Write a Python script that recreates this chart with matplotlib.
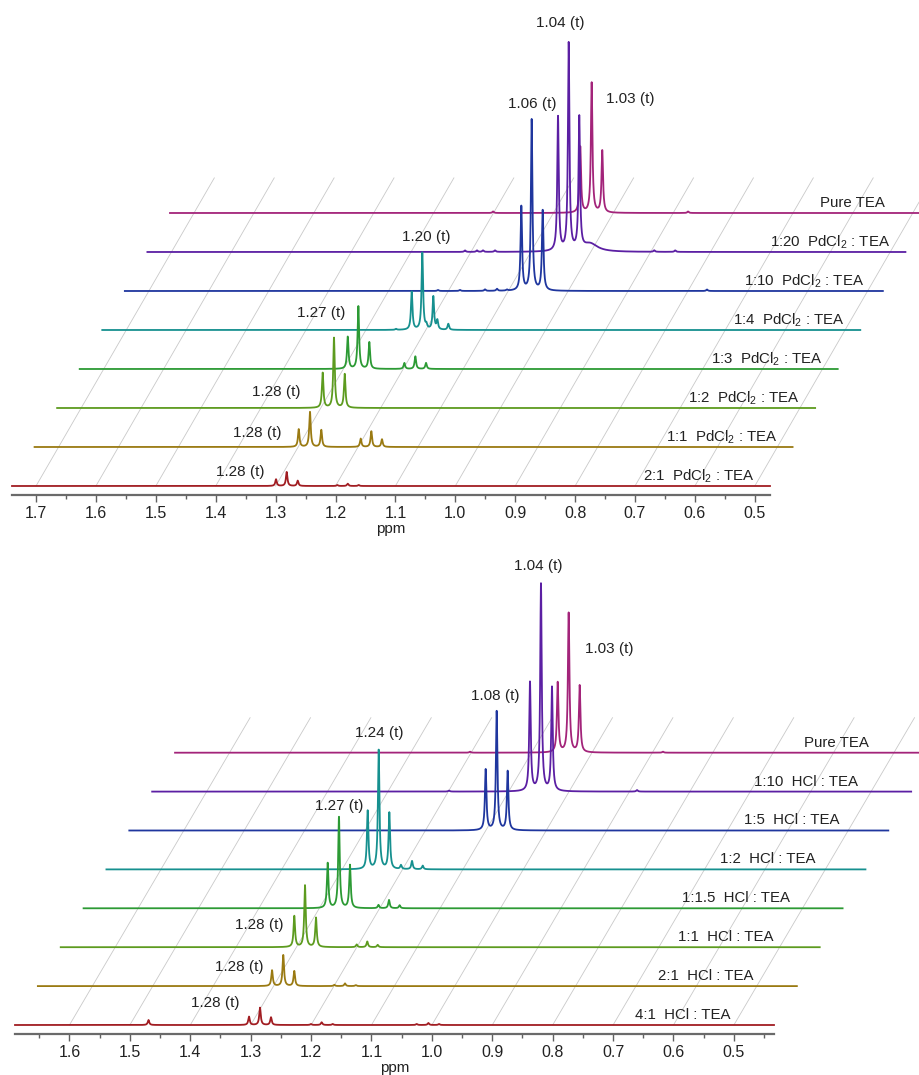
import numpy as np
import matplotlib.pyplot as plt
from matplotlib.ticker import MultipleLocator, FormatStrFormatter

plt.rcParams['font.family'] = ['Liberation Sans', 'DejaVu Sans']
plt.rcParams['mathtext.fontset'] = 'custom'
plt.rcParams['mathtext.rm'] = 'Liberation Sans'

# ---------------- top panel: PdCl2 : TEA (front -> back) ----------------
pd_labels = [r'2:1  PdCl$_\mathregular{2}$ : TEA', r'1:1  PdCl$_\mathregular{2}$ : TEA',
             r'1:2  PdCl$_\mathregular{2}$ : TEA', r'1:3  PdCl$_\mathregular{2}$ : TEA',
             r'1:4  PdCl$_\mathregular{2}$ : TEA', r'1:10  PdCl$_\mathregular{2}$ : TEA',
             r'1:20  PdCl$_\mathregular{2}$ : TEA', 'Pure TEA']
pd_ppm = [
    [1.2993, 1.2815, 1.2631, 1.197, 1.1796, 1.1613],
    [1.2991, 1.2803, 1.2614, 1.1956, 1.1779, 1.1601],
    [1.2968, 1.2779, 1.2600],
    [1.2926, 1.2749, 1.2566, 1.1981, 1.1798, 1.1619],
    [1.2235, 1.2058, 1.1874, 1.199, 1.1807, 1.1624, 1.2497],
    [1.0782, 1.0609, 1.0425, 1.2173, 1.1806, 1.1388, 1.1188, 1.1021, 0.7682],
    [1.0546, 1.0368, 1.0191, 1.2099, 1.1899, 1.1799, 1.1598, 0.894, 0.859],
    [1.0551, 1.0361, 1.0184, 1.2007, 0.8752],
]
pd_height = [
    [6.7, 14, 5.3, 1, 2.3, 1],
    [17.7, 35, 17, 8.3, 15.7, 7.7],
    [35, 70, 33.7],
    [32, 62.6, 26.6, 6, 12.6, 6],
    [38, 77, 33, 4, 9, 6, 1],
    [84, 171, 80, 1, 1, 1.5, 2, 1, 1.5],
    [134, 207, 132, 1.5, 1.5, 1.5, 1.5, 1.5, 1.5],
    [66, 130, 62, 1.5, 1.5],
]
# broad shoulder on the 1:20 trace (level, ppm, height, half width)
pd_hump = (6, 1.001, 8, 0.015)
pd_peak_text = ['1.28 (t)', '1.28 (t)', '1.28 (t)', '1.27 (t)', '1.20 (t)', '1.06 (t)', '1.04 (t)', '1.03 (t)']

# ---------------- bottom panel: HCl : TEA (front -> back) ----------------
hcl_labels = ['4:1  HCl : TEA', '2:1  HCl : TEA', '1:1  HCl : TEA', '1:1.5  HCl : TEA',
              '1:2  HCl : TEA', '1:5  HCl : TEA', '1:10  HCl : TEA', 'Pure TEA']
hcl_ppm = [
    [1.3028, 1.2846, 1.2664, 1.2002, 1.1825, 1.1642, 1.4692, 1.0252, 1.0058, 0.9882],
    [1.3025, 1.2839, 1.2657, 1.1994, 1.1817, 1.164],
    [1.3035, 1.2858, 1.2676, 1.2002, 1.1827, 1.1654],
    [1.2861, 1.2674, 1.2492, 1.202, 1.1846, 1.167],
    [1.2577, 1.2395, 1.2219, 1.2026, 1.1843, 1.1666],
    [1.1002, 1.0820, 1.0638],
    [1.0647, 1.0465, 1.0283, 0.8875, 1.1988],
    [1.0567, 1.0385, 1.0203, 1.2018, 0.8824],
]
hcl_height = [
    [8.3, 17.3, 7.7, 1, 2.7, 1, 5, 1, 2, 1],
    [15.7, 31, 15, 1.3, 2.7, 1],
    [31, 61.7, 29.3, 2.7, 5.7, 2.3],
    [45, 91, 43, 3.3, 8.3, 3],
    [58.3, 119, 56.3, 4, 8.3, 3.7],
    [60.7, 119, 59],
    [108.7, 207, 103.7, 1.5, 1],
    [70, 139.4, 66.7, 1, 1],
]
hcl_peak_text = ['1.28 (t)', '1.28 (t)', '1.28 (t)', '1.27 (t)', '1.24 (t)', '1.08 (t)', '1.04 (t)', '1.03 (t)']

colors = ['#a11d22', '#9a7a12', '#5d9b1f', '#2c9a34', '#16908f', '#1f369e', '#5b1fa3', '#a3247a']

# ---------------- layout (positions, not data) ----------------
pd_layout = dict(rect=[12 / 920, 1 - 495 / 1075, 758 / 920, 485 / 1075], xlim=(1.7401, 0.4746),
                 ytop=476, dx=0.03768, dy=39.0,
                 lab_x=[0.50, 0.50, 0.50, 0.50, 0.50, 0.505, 0.50, 0.546],
                 peak_xy=[(1.3594, 14), (1.331, 53), (1.2993, 94), (1.2242, 173),
                          (1.0489, 249), (0.8720, 382), (0.8252, 463), (0.7083, 387)])
hcl_layout = dict(rect=[15 / 920, 1 - 1034 / 1075, 759 / 920, 484 / 1075], xlim=(1.6902, 0.4336),
                  ytop=475, dx=0.03785, dy=38.9,
                  lab_x=[0.506, 0.506, 0.51, 0.52, 0.516, 0.515, 0.522, 0.542],
                  peak_xy=[(1.3591, 22), (1.3194, 58), (1.2863, 100), (1.1538, 219),
                           (1.0876, 292), (0.8947, 329), (0.8243, 459), (0.7068, 376)])

LW = 0.0015  # lorentzian half width (ppm)


def spectrum(x, ppm, height, width=LW):
    y = np.zeros_like(x)
    for p, h in zip(ppm, height):
        y += h * width ** 2 / ((x - p) ** 2 + width ** 2)
    return y


def draw_panel(fig, lay, ppm, height, labels, peak_text, hump=None):
    ax = fig.add_axes(lay['rect'])
    ax.set_xlim(*lay['xlim'])
    ax.set_ylim(-9, lay['ytop'])
    ax.xaxis.set_major_locator(MultipleLocator(0.1))
    ax.xaxis.set_minor_locator(MultipleLocator(0.05))
    ax.xaxis.set_major_formatter(FormatStrFormatter('%.1f'))
    ax.tick_params(axis='x', which='major', direction='out', length=5, width=1.0,
                   color='#606060', labelsize=11.5, pad=3, labelcolor='#222222')
    ax.tick_params(axis='x', which='minor', direction='out', length=3, width=1.0, color='#606060')
    ax.set_yticks([])
    for s in ['left', 'right', 'top']:
        ax.spines[s].set_visible(False)
    ax.spines['bottom'].set_color('#6a6a6a')
    ax.spines['bottom'].set_linewidth(1.6)
    ax.set_xlabel('ppm', fontsize=11, labelpad=0.5, color='#222222')
    ax.patch.set_alpha(0)

    dx, dy = lay['dx'], lay['dy']
    n = len(ppm)
    # slanted guide lines from each major tick
    lo, hi = min(lay['xlim']), max(lay['xlim'])
    k = 7.9
    for t in ax.xaxis.get_majorticklocs():
        if lo <= t <= hi:
            ax.plot([t, t - k * dx], [0, k * dy], color='#c9c9c9', lw=0.6, zorder=0, clip_on=False)

    x = np.linspace(lay['xlim'][0], lay['xlim'][1], 14000)
    for i in range(n - 1, -1, -1):
        y = spectrum(x, ppm[i], height[i])
        if hump is not None and hump[0] == i:
            y += spectrum(x, [hump[1]], [hump[2]], hump[3])
        ax.plot(x - i * dx, y + i * dy, color=colors[i], lw=1.3, zorder=20 - i,
                clip_on=False, solid_joinstyle='round')
        ax.text(lay['lab_x'][i] - i * dx, i * dy + 10, labels[i], ha='right', va='center',
                fontsize=10.8, color='#222222', zorder=30)
        px, py = lay['peak_xy'][i]
        ax.text(px, py, peak_text[i], ha='center', va='center', fontsize=11,
                color='#222222', zorder=30, clip_on=False)
    return ax


fig = plt.figure(figsize=(9.2, 10.75), dpi=100)
draw_panel(fig, pd_layout, pd_ppm, pd_height, pd_labels, pd_peak_text, hump=pd_hump)
draw_panel(fig, hcl_layout, hcl_ppm, hcl_height, hcl_labels, hcl_peak_text)
fig.savefig('out.png', dpi=100)
